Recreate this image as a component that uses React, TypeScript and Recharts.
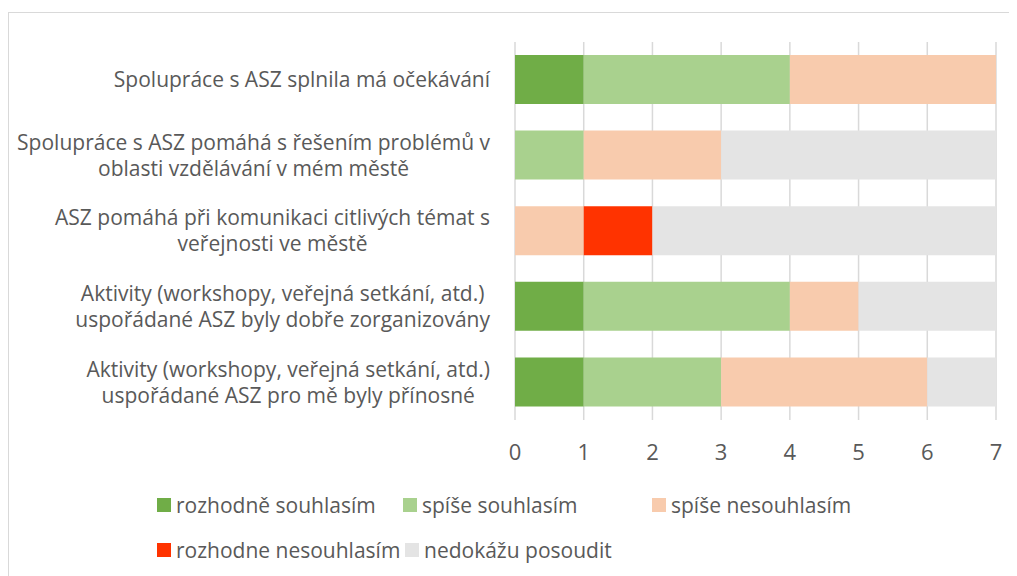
import { BarChart, Bar, XAxis, YAxis, CartesianGrid, Legend } from 'recharts';

const categories = [
    ['Spolupráce s ASZ splnila má očekávání'],
    ['Spolupráce s ASZ pomáhá s řešením problémů v', 'oblasti vzdělávání v mém městě'],
    ['ASZ pomáhá při komunikaci citlivých témat s', 'veřejnosti ve městě'],
    ['Aktivity (workshopy, veřejná setkání, atd.)', 'uspořádané ASZ byly dobře zorganizovány'],
    ['Aktivity (workshopy, veřejná setkání, atd.)', 'uspořádané ASZ pro mě byly přínosné'],
];

const rozhodneSouhlasim = [1, 0, 0, 1, 1];
const spiseSouhlasim = [3, 1, 0, 3, 2];
const spiseNesouhlasim = [3, 2, 1, 1, 3];
const rozhodneNesouhlasim = [0, 0, 1, 0, 0];
const nedokazuPosoudit = [0, 4, 5, 2, 1];

const xTicks = [0, 1, 2, 3, 4, 5, 6, 7];

const series = [
    { key: 'rs', name: 'rozhodně souhlasím', values: rozhodneSouhlasim, color: '#70AD47' },
    { key: 'ss', name: 'spíše souhlasím', values: spiseSouhlasim, color: '#A9D18E' },
    { key: 'sn', name: 'spíše nesouhlasím', values: spiseNesouhlasim, color: '#F8CBAD' },
    { key: 'rn', name: 'rozhodne nesouhlasím', values: rozhodneNesouhlasim, color: '#FF3300' },
    { key: 'np', name: 'nedokážu posoudit', values: nedokazuPosoudit, color: '#E4E4E4' },
];

const data = categories.map((lines, i) => {
    const row: Record<string, any> = { name: lines.join('\n') };
    series.forEach((s) => {
        row[s.key] = s.values[i];
    });
    return row;
});

const FONT = '"Open Sans", sans-serif';
const TEXT = '#595959';
const FONT_SIZE = 21;

let ctx: CanvasRenderingContext2D | null = null;
function measure(t: string) {
    if (!ctx) ctx = document.createElement('canvas').getContext('2d');
    if (!ctx) return t.length * 10;
    ctx.font = `${FONT_SIZE}px "Open Sans"`;
    return ctx.measureText(t).width;
}

// wrapped labels: lines centred on each other, block pushed against the axis
function CategoryTick({ x, y, payload }: any) {
    const lines = String(payload.value).split('\n');
    const maxW = Math.max(...lines.map(measure));
    const cx = x - 17 - maxW / 2;
    const lh = 26;
    const startY = y - ((lines.length - 1) * lh) / 2;
    return (
        <g>
            {lines.map((l, i) => (
                <text
                    key={i}
                    x={cx}
                    y={startY + i * lh}
                    dy="0.35em"
                    textAnchor="middle"
                    fill={TEXT}
                    fontSize={FONT_SIZE}
                    fontFamily={FONT}
                >
                    {l}
                </text>
            ))}
        </g>
    );
}

function LegendContent() {
    const rows = [series.slice(0, 3), series.slice(3)];
    const widths = [[246, 249, 220], [248, 220]];
    return (
        <div style={{ fontFamily: FONT, fontSize: FONT_SIZE, color: TEXT }}>
            {rows.map((row, r) => (
                <div key={r} style={{ display: 'flex', height: 45, alignItems: 'center' }}>
                    {row.map((s, i) => (
                        <div key={s.key} style={{ display: 'flex', alignItems: 'center', width: widths[r][i], flexShrink: 0 }}>
                            <span style={{ display: 'inline-block', width: 14, height: 14, background: s.color, marginRight: 5, flexShrink: 0 }} />
                            <span style={{ whiteSpace: 'nowrap' }}>{s.name}</span>
                        </div>
                    ))}
                </div>
            ))}
        </div>
    );
}

export default function App() {
    return (
        <div style={{ position: 'relative', width: 1017, height: 576, marginTop: -8, marginLeft: -8, background: '#fff', overflow: 'hidden' }}>
            <style>{'body{overflow:hidden}'}</style>
            <div
                style={{
                    position: 'absolute',
                    left: 8,
                    top: 12,
                    width: 1020,
                    height: 580,
                    borderTop: '1px solid #D9D9D9',
                    borderLeft: '1px solid #D9D9D9',
                }}
            />
            <div style={{ position: 'absolute', left: 0, top: 0 }}>
                <BarChart
                    width={1017}
                    height={576}
                    data={data}
                    layout="vertical"
                    margin={{ top: 42, right: 21, left: 0, bottom: 116 }}
                    barSize={49}
                >
                    <CartesianGrid horizontal={false} stroke="#D9D9D9" strokeWidth={1.5} />
                    <XAxis
                        type="number"
                        domain={[0, 7]}
                        ticks={xTicks}
                        interval={0}
                        height={40}
                        axisLine={false}
                        tickLine={false}
                        tickMargin={18}
                        tick={{ fill: TEXT, fontSize: 22, fontFamily: FONT }}
                    />
                    <YAxis
                        type="category"
                        dataKey="name"
                        width={515}
                        axisLine={false}
                        tickLine={false}
                        tick={<CategoryTick />}
                        interval={0}
                    />
                    <Legend
                        layout="horizontal"
                        verticalAlign="middle"
                        align="center"
                        wrapperStyle={{ top: 482, left: 157, width: 760 }}
                        content={<LegendContent />}
                    />
                    {series.map((s) => (
                        <Bar key={s.key} dataKey={s.key} name={s.name} stackId="a" fill={s.color} isAnimationActive={false} />
                    ))}
                </BarChart>
            </div>
        </div>
    );
}
